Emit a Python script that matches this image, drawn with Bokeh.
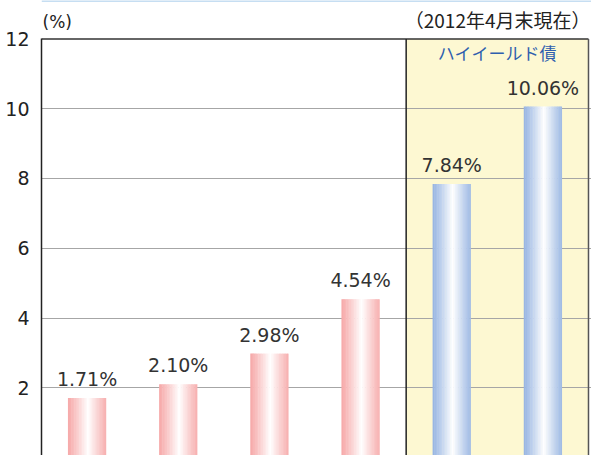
import numpy as np
from bokeh.plotting import figure
from bokeh.models import Range1d, FixedTicker, BoxAnnotation, Span, ColumnDataSource
from bokeh.core.properties import value
from bokeh.embed import file_html
from bokeh.resources import INLINE

# ---- data ----
values = [1.71, 2.10, 2.98, 4.54, 7.84, 10.06]
value_labels = ["1.71%", "2.10%", "2.98%", "4.54%", "7.84%", "10.06%"]
groups = ["other", "other", "other", "other", "high_yield", "high_yield"]
y_ticks = [0, 2, 4, 6, 8, 10, 12]
unit_label = "(%)"
date_label = "（2012年4月末現在）"
highlight_label = "ハイイールド債"

# ---- styling ----
edge_colors = {"other": (246, 168, 168), "high_yield": (150, 180, 226)}
bar_width = 0.42
n_stripes = 24
white_pos = 0.05
y_max = 12
n_cat = len(values)
hl_start = groups.index("high_yield")

def mix(c, w):
    r, g, b = [int(round(ci + (255 - ci) * w)) for ci in c]
    return "#%02x%02x%02x" % (r, g, b)

left, right, top, bottom, colors = [], [], [], [], []
for i, (v, g) in enumerate(zip(values, groups)):
    xc = i + 0.5
    edges = np.linspace(xc - bar_width / 2, xc + bar_width / 2, n_stripes + 1)
    for k in range(n_stripes):
        mid = (edges[k] + edges[k + 1]) / 2
        t = (mid - xc) / (bar_width / 2) - white_pos
        w = max(0.0, 1 - abs(t) / 1.05) ** 1.1
        left.append(edges[k])
        right.append(edges[k + 1] + 0.005 if k < n_stripes - 1 else edges[k + 1])
        top.append(v)
        bottom.append(0)
        colors.append(mix(edge_colors[g], w))

stripes = ColumnDataSource(dict(left=left, right=right, top=top, bottom=bottom, color=colors))
labels_src = ColumnDataSource(dict(x=[i + 0.5 for i in range(n_cat)], y=values, text=value_labels))

p = figure(width=591, height=455, x_range=Range1d(0, n_cat + 0.033), y_range=Range1d(0.06, 13.1),
           output_backend="svg", toolbar_location=None,
           min_border_left=41, min_border_right=0, min_border_top=0, min_border_bottom=0)
p.background_fill_color = "white"
p.border_fill_color = "white"
p.outline_line_color = None

p.xaxis.visible = False
p.xgrid.visible = False

p.yaxis.ticker = FixedTicker(ticks=y_ticks)
p.yaxis.bounds = (0, y_max)
p.yaxis.major_tick_line_color = None
p.yaxis.minor_tick_line_color = None
p.yaxis.axis_line_color = "#222222"
p.yaxis.axis_line_width = 1.5
p.yaxis.major_label_text_font = "DejaVu Sans"
p.yaxis.major_label_text_font_size = "19px"
p.yaxis.major_label_text_color = "#222222"
p.yaxis.major_label_standoff = 6

p.ygrid.ticker = FixedTicker(ticks=[t for t in y_ticks if 0 < t < y_max])
p.ygrid.grid_line_color = "#a6a6a6"
p.ygrid.grid_line_width = 1.2

box = BoxAnnotation(left=hl_start, right=n_cat, bottom=0, top=y_max, fill_color="#fdf8d2",
                    fill_alpha=1.0, line_color=None, level="image")
p.add_layout(box)

# thin light-blue rule at the very top of the page
p.add_layout(Span(location=13.085, dimension="width", line_color="#c6def2", line_width=2))

# frame borders
p.segment(x0=[0, hl_start, n_cat], y0=[y_max, 0, 0], x1=[n_cat, hl_start, n_cat], y1=[y_max, y_max, y_max],
          line_color=["#333333", "#222222", "#555555"], line_width=1.5)

p.quad(left="left", right="right", top="top", bottom="bottom", source=stripes,
       fill_color="color", line_color=None)

p.text(x="x", y="y", text="text", source=labels_src, y_offset=-19,
       text_align="center", text_baseline="alphabetic",
       text_font=value("DejaVu Sans"), text_font_size="19px", text_color="#333333")

p.text(x=[0], y=[12.48], text=[unit_label], x_offset=1, text_align="left", text_baseline="middle",
       text_font=value("DejaVu Sans"), text_font_size="17px", text_color="#222222")
p.text(x=[n_cat], y=[12.55], text=[date_label], x_offset=2, text_align="right", text_baseline="middle",
       text_font=value("Noto Sans CJK JP"), text_font_size="19px", text_color="#222222")
p.text(x=[(hl_start + n_cat) / 2], y=[11.62], text=[highlight_label], text_align="center",
       text_baseline="middle", text_font=value("Noto Sans CJK JP"), text_font_size="17px",
       text_color="#2f5fae")

open("out.html", "w").write(file_html(p, INLINE))
